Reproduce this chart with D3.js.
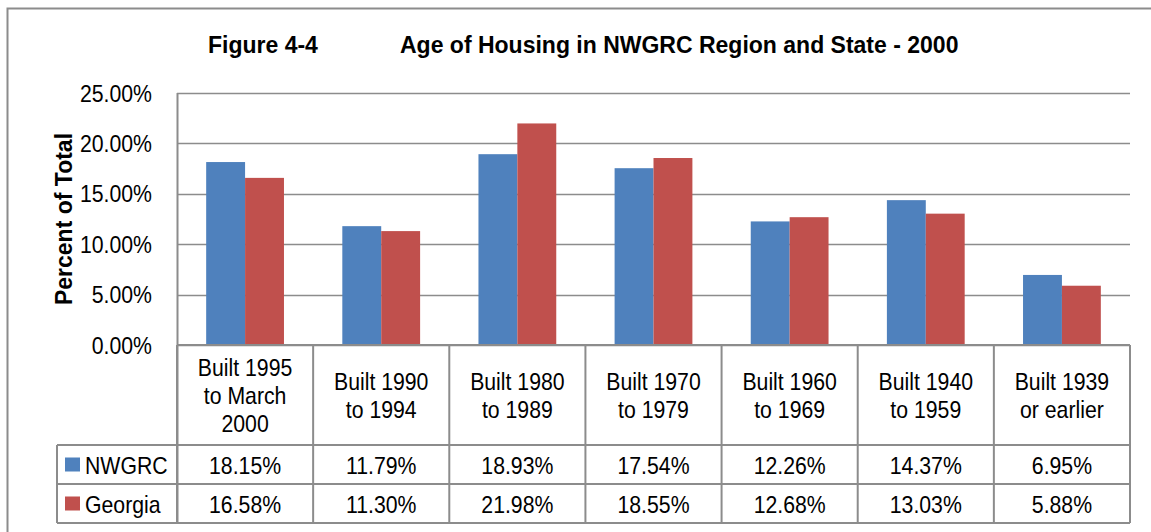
<!DOCTYPE html>
<html>
<head>
<meta charset="utf-8">
<script src="https://cdn.jsdelivr.net/npm/d3@7"></script>
<style>
  body { margin: 0; background: #fff; }
  svg { display: block; font-family: "Liberation Sans Narrow", "Arial Narrow", "Liberation Sans", Arial, sans-serif; }
</style>
</head>
<body>
<script>
const width = 1151;
const height = 532;

// data
const categories = [
  ["Built 1995", "to March", "2000"],
  ["Built 1990", "to 1994"],
  ["Built 1980", "to 1989"],
  ["Built 1970", "to 1979"],
  ["Built 1960", "to 1969"],
  ["Built 1940", "to 1959"],
  ["Built 1939", "or earlier"]
];
const seriesNames = ["NWGRC", "Georgia"];
const nwgrc = [18.15, 11.79, 18.93, 17.54, 12.26, 14.37, 6.95];
const georgia = [16.58, 11.30, 21.98, 18.55, 12.68, 13.03, 5.88];
const yTicks = [0, 5, 10, 15, 20, 25];
const colors = ["#4F81BD", "#C0504D"];
const series = [nwgrc, georgia];

const plot = { left: 177, right: 1130, top: 93, bottom: 345 };
const catRowBottom = 445, row1Bottom = 484, row2Bottom = 523, legendLeft = 57;
const lineColor = "#8c8c8c";
const fs = 24;        // body text size
const squeeze = 0.885; // no narrow font installed, so squeeze horizontally

const svg = d3.select("body").append("svg")
  .attr("width", width).attr("height", height);

// text helper: squeezed text placed at (x, y)
function label(parent, x, y, anchor) {
  return parent.append("text")
    .attr("transform", `translate(${x},${y}) scale(${squeeze},1)`)
    .attr("text-anchor", anchor || "start")
    .attr("font-size", fs);
}

// outer chart border
svg.append("rect")
  .attr("x", 7.5).attr("y", 8.5)
  .attr("width", width + 20).attr("height", height + 20)
  .attr("fill", "none").attr("stroke", lineColor).attr("stroke-width", 2);

// title
svg.append("text").attr("x", 208).attr("y", 53)
  .attr("font-size", 23).attr("font-weight", "bold").text("Figure 4-4");
svg.append("text").attr("x", 400).attr("y", 53)
  .attr("font-size", 23).attr("font-weight", "bold")
  .text("Age of Housing in NWGRC Region and State - 2000");

const x = d3.scaleBand()
  .domain(d3.range(categories.length))
  .range([plot.left, plot.right])
  .paddingInner(0).paddingOuter(0);

const x1 = d3.scaleBand()
  .domain(d3.range(seriesNames.length))
  .range([0, x.bandwidth()])
  .paddingOuter(0.75);

const y = d3.scaleLinear().domain([0, 25]).range([plot.bottom, plot.top]);

// gridlines
svg.append("g").selectAll("line").data(yTicks).join("line")
  .attr("x1", plot.left).attr("x2", plot.right)
  .attr("y1", d => Math.round(y(d)) + 0.5).attr("y2", d => Math.round(y(d)) + 0.5)
  .attr("stroke", lineColor).attr("stroke-width", 1.5);

// y tick labels
const tickG = svg.append("g");
yTicks.forEach(d => {
  label(tickG, 152, y(d) + 8.6, "end").text(d3.format(".2f")(d) + "%");
});

// y axis title
svg.append("text")
  .attr("transform", `translate(72,219) rotate(-90)`)
  .attr("text-anchor", "middle").attr("font-size", 23).attr("font-weight", "bold")
  .text("Percent of Total");

// bars
const groups = svg.append("g").selectAll("g").data(categories).join("g")
  .attr("transform", (d, i) => `translate(${x(i)},0)`);
groups.selectAll("rect").data((d, i) => series.map((s, k) => ({ k, v: s[i] }))).join("rect")
  .attr("x", d => x1(d.k))
  .attr("width", x1.bandwidth())
  .attr("y", d => y(d.v))
  .attr("height", d => y(0) - y(d.v))
  .attr("fill", d => colors[d.k]);

// y axis line
svg.append("line")
  .attr("x1", plot.left + 0.5).attr("x2", plot.left + 0.5)
  .attr("y1", plot.top).attr("y2", row2Bottom)
  .attr("stroke", lineColor).attr("stroke-width", 2);

// data table
const table = svg.append("g").attr("stroke", lineColor).attr("stroke-width", 2).attr("fill", "none");
d3.range(categories.length + 1).forEach(i => {
  const xx = i < categories.length ? x(i) : plot.right;
  table.append("line").attr("x1", xx).attr("x2", xx).attr("y1", plot.bottom).attr("y2", row2Bottom);
});
table.append("line").attr("x1", plot.left).attr("x2", plot.right).attr("y1", plot.bottom).attr("y2", plot.bottom);
[catRowBottom, row1Bottom, row2Bottom].forEach(yy => {
  table.append("line").attr("x1", legendLeft).attr("x2", plot.right).attr("y1", yy).attr("y2", yy);
});
table.append("line").attr("x1", legendLeft).attr("x2", legendLeft).attr("y1", catRowBottom).attr("y2", row2Bottom);

// category labels
const lh = 28;
groups.each(function (lines) {
  const t = label(d3.select(this), x.bandwidth() / 2, 404, "middle");
  lines.forEach((l, j) => {
    t.append("tspan").attr("x", 0)
      .attr("y", (j - (lines.length - 1) / 2) * lh).text(l);
  });
});

// legend + values rows
const rowMid = [(catRowBottom + row1Bottom) / 2, (row1Bottom + row2Bottom) / 2];
seriesNames.forEach((name, k) => {
  svg.append("rect").attr("x", 65).attr("y", rowMid[k] - 7)
    .attr("width", 15).attr("height", 14).attr("fill", colors[k]);
  label(svg, 85, rowMid[k] + 9.3).text(name);
  const rowG = svg.append("g");
  series[k].forEach((d, i) => {
    label(rowG, x(i) + x.bandwidth() / 2, rowMid[k] + 9.3, "middle")
      .text(d3.format(".2f")(d) + "%");
  });
});
</script>
</body>
</html>
